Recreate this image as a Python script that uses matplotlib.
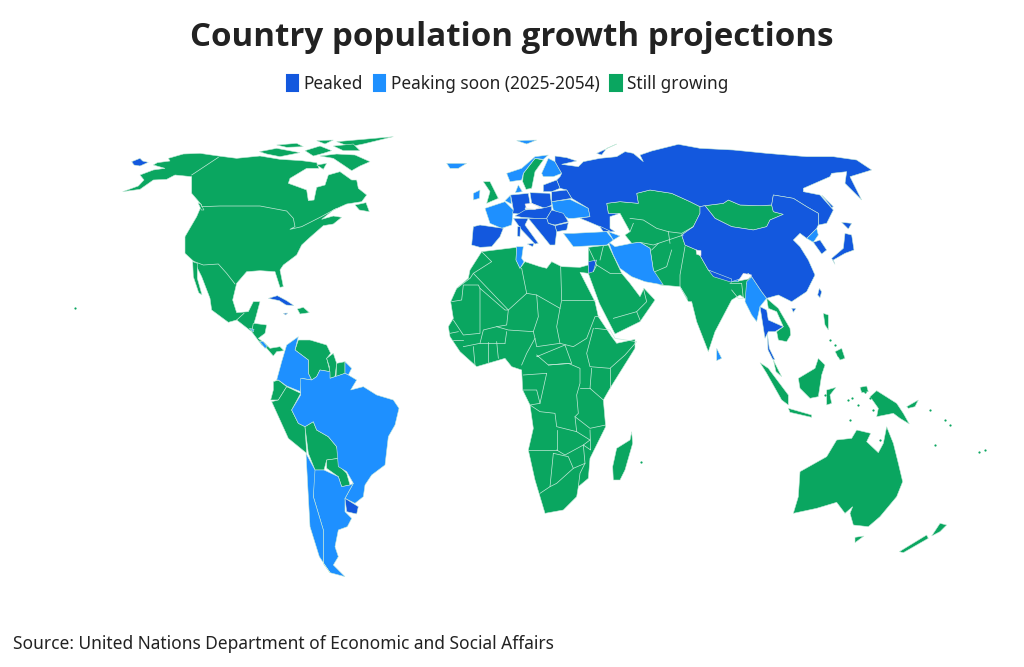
import matplotlib
matplotlib.use("Agg")
import matplotlib.pyplot as plt
from matplotlib.patches import Patch, Polygon
import numpy as np

TITLE = "Country population growth projections"
SOURCE = "Source: United Nations Department of Economic and Social Affairs"
LABELS = ["Peaked", "Peaking soon (2025-2054)", "Still growing"]
COLORS = {"peaked": "#1358DE", "soon": "#1E90FF", "growing": "#0AA660"}

AM = (120, 130); SA = (230, 330); EU = (440, 130); AF = (440, 240); AS = (600, 135); OC = (740, 300)

north_america = [(60,135),(100,120),(135,115),(100,105),(112,98),(150,93),(145,85),(190,72),(240,70),(295,78),(350,85),(420,78),(480,88),(545,92),(590,98),(597,115),(560,115),(510,145),(505,160),(560,180),(565,212),(582,210),(590,172),(615,165),(625,135),(660,125),(695,150),(710,150),(715,175),(740,195),(725,215),(680,222),(640,240),(605,268),(640,258),(665,262),(640,282),(610,287),(570,322),(545,345),(530,375),(490,405),(480,420),(490,470),(480,472),(465,425),(420,422),(380,425),(350,460),(338,510),(350,548),(385,545),(400,515),(420,515),(408,560),(402,580),(440,585),(435,610),(415,625),(435,640),(450,655),(480,650),(492,662),(470,665),(460,678),(440,655),(425,645),(395,605),(350,570),(325,577),(275,540),(270,505),(245,440),(235,420),(222,395),(195,370),(195,320),(230,260),(245,225),(215,190),(215,140),(165,135),(140,148),(100,150),(60,178),(8,185),(55,168),(72,150)]
baja = [(218,395),(232,400),(232,445),(246,495),(236,488),(220,440)]
ellesmere = [(650,35),(820,20),(730,42),(690,50)]
baffin = [(600,78),(650,72),(705,75),(750,95),(720,108),(695,122),(670,105),(640,85)]
victoria = [(418,65),(470,55),(540,68),(480,80),(440,72)]
banks = [(470,45),(530,40),(550,50),(500,52)]
arctic_mid = [(555,62),(600,48),(635,62),(610,70),(580,78)]
arctic_north = [(590,32),(640,30),(615,42)]
arctic_east = [(640,48),(700,42),(720,62),(670,62)]
southampton = [(590,105),(620,100),(610,118)]
newfoundland = [(705,225),(738,218),(748,245),(718,240)]
vancouver = [(234,218),(242,222),(252,240),(244,240)]
hispaniola_east = [(532,537),(550,532),(568,548),(540,552)]
chukotka = [(35,95),(60,85),(68,93),(85,97),(60,108),(42,105)]
cuba = [(445,505),(472,497),(500,512),(522,527),(498,525),(478,512)]
haiti = [(490,550),(503,549),(497,555)]
costa_rica = [(418,633),(430,635),(442,650),(435,655)]
salvador = [(388,595),(402,598),(400,606)]

colombia = [(155,95),(170,45),(205,20),(195,60),(235,90),(235,130),(245,150),(215,145),(212,185),(170,168),(145,150),(140,150)]
venezuela = [(195,60),(205,30),(240,30),(290,45),(302,70),(290,85),(300,125),(270,120),(260,140),(245,150),(235,130),(235,90)]
guyana = [(290,85),(310,70),(320,100),(315,140),(300,145),(298,110)]
suriname = [(320,100),(345,95),(345,130),(318,140)]
guiana = [(345,95),(365,115),(355,135),(345,130)]
brazil = [(212,145),(245,150),(260,140),(270,120),(300,125),(300,145),(345,130),(355,135),(380,150),(362,180),(400,170),(440,195),(490,210),(507,235),(495,285),(475,320),(465,405),(425,435),(405,465),(400,500),(375,520),(345,505),(370,460),(350,425),(325,410),(320,350),(295,320),(260,300),(250,275),(225,290),(205,280),(185,240),(212,195)]
ecuador = [(130,155),(145,150),(170,170),(145,210),(122,210),(130,180)]
peru = [(170,170),(212,190),(185,240),(205,280),(225,290),(230,370),(175,325),(125,215),(145,210)]
bolivia = [(225,290),(250,275),(260,300),(295,320),(320,350),(327,385),(290,390),(282,420),(255,420),(235,370)]
paraguay = [(290,390),(327,385),(330,410),(350,430),(360,465),(335,470),(325,440),(290,415)]
uruguay = [(345,505),(385,530),(380,552),(350,545)]
argentina = [(255,420),(282,420),(325,440),(335,470),(360,465),(370,460),(345,505),(345,545),(365,565),(352,590),(325,600),(315,650),(325,680),(310,705),(345,740),(300,728),(280,700),(280,600),(250,500),(250,430)]
chile = [(228,370),(255,420),(250,500),(280,600),(280,700),(300,728),(268,680),(240,590),(235,500)]

africa = [(125,35),(230,22),(228,60),(240,85),(255,65),(300,80),(320,85),(335,65),(365,80),(420,82),(445,75),(445,100),(420,97),(465,185),(475,230),(515,290),(530,310),(585,298),(585,325),(560,365),(510,445),(490,480),(497,560),(450,655),(445,715),(415,740),(410,770),(370,810),(315,820),(300,770),(285,720),(265,630),(280,565),(270,495),(248,450),(245,390),(215,380),(195,355),(110,380),(60,335),(30,290),(25,260),(40,235),(32,185),(50,145),(85,115),(90,90)]
tunisia = [(230,20),(250,20),(245,55),(252,65),(240,85),(228,60)]
madagascar = [(575,575),(578,610),(555,690),(540,720),(520,720),(518,680),(530,625),(570,600)]
arabia = [(445,22),(505,15),(545,100),(570,130),(600,170),(612,145),(645,180),(600,245),(525,282),(478,190),(445,100),(445,75)]
jordan = [(445,65),(470,60),(460,95),(445,100)]
africa_borders = [
 [(125,35),(155,65),(100,100),(90,115),(50,145)], [(100,100),(205,210),(260,160),(245,85)],
 [(362,80),(365,180),(360,205),(290,165),(260,160)], [(365,180),(465,180)],
 [(35,185),(65,180),(70,135),(115,135),(120,145),(195,210),(205,210),(200,255),(170,260),(130,270),(120,310)],
 [(120,145),(120,280),(70,285),(40,240)], [(290,165),(295,230),(280,275),(205,270),(170,260)],
 [(360,205),(350,260),(360,310),(290,320),(285,295)], [(195,310),(200,275)],[(280,275),(285,295),(260,340),(245,375)],
 [(360,310),(400,320),(440,295),(465,230),(480,230)], [(465,265),(510,270),(525,295),(590,305),(555,345),(510,385),(450,380),(440,340),(460,265)],
 [(455,385),(450,445),(490,480)], [(510,385),(510,445)], [(290,350),(375,315),(395,370),(325,375),(290,345)],
 [(325,375),(385,370),(420,385),(420,430),(410,465),(415,520),(405,530),(410,575),(350,560),(345,520),(300,515),(270,495),(300,490),(320,400)],
 [(420,445),(450,445)], [(497,555),(450,565),(405,530)], [(350,570),(350,630),(265,630)], [(410,575),(450,600),(430,615),(375,645),(350,630)],
 [(340,640),(330,740),(300,760)], [(340,640),(385,650),(400,685),(350,730),(330,740)], [(430,615),(435,670),(400,685)],
 [(450,570),(452,630),(430,615)], [(435,670),(420,700),(415,740)], [(250,405),(320,400)], [(248,450),(290,450),(300,490)],
 [(70,320),(120,310),(195,310)], [(100,320),(105,375)], [(145,305),(145,365)], [(170,305),(175,355)], [(30,280),(55,275)], [(40,300),(70,300)],
 [(520,235),(590,215),(600,240)], [(590,215),(620,185),(610,145)], [(470,75),(510,100),(545,100)], [(445,22),(470,75),(460,95)], [(490,18),(480,60)]]

russia = [(-135,63),(-100,68),(-70,78),(-115,88),(-65,95),(-50,80),(0,70),(50,65),(75,50),(100,55),(130,80),(120,60),(155,48),(235,28),(300,40),(400,45),(500,55),(620,65),(700,65),(770,75),(815,105),(750,125),(785,195),(735,145),(740,110),(695,115),(690,125),(610,160),(610,170),(660,180),(700,225),(680,265),(655,270),(655,235),(620,215),(580,190),(520,180),(515,210),(480,212),(420,210),(385,195),(370,205),(315,212),(300,215),(270,200),(215,175),(150,165),(110,175),(115,205),(60,200),(20,205),(25,235),(60,235),(30,245),(30,280),(45,290),(30,290),(0,275),(-35,260),(-60,250),(-30,245),(-35,220),(-85,190),(-100,165),(-120,160),(-130,135),(-120,125),(-115,115),(-135,80)]
novaya = [(-10,55),(50,27),(20,40),(5,60)]
china = [(300,235),(280,275),(245,300),(255,330),(290,345),(305,370),(325,405),(395,440),(425,430),(445,415),(455,425),(485,470),(500,490),(535,480),(575,500),(620,470),(645,420),(625,375),(600,335),(580,315),(600,295),(620,310),(650,280),(655,270),(655,235),(620,215),(580,190),(520,180),(515,210),(520,230),(550,238),(510,255),(500,275),(460,285),(395,275),(345,250),(315,212),(300,215)]
mongolia = [(315,212),(370,205),(385,195),(420,210),(480,212),(515,210),(520,230),(550,238),(510,255),(500,275),(460,285),(395,275),(345,250)]
central_south_asia = [(20,205),(60,200),(115,205),(110,175),(150,165),(215,175),(270,200),(300,215),(300,235),(280,275),(245,300),(255,330),(290,345),(305,370),(325,405),(395,440),(445,425),(455,430),(440,445),(445,470),(440,495),(420,480),(395,495),(345,590),(325,650),(290,560),(275,500),(265,500),(240,455),(180,450),(160,405),(150,340),(120,322),(95,325),(75,300),(90,290),(60,235),(25,235)]
asia_borders = [[(90,250),(130,255),(170,280),(205,290),(245,295),(280,275)], [(90,290),(100,265)], [(155,345),(175,325),(205,315),(250,300)], [(215,345),(200,395),(165,410)], [(255,335),(240,420),(240,455),(262,490)], [(390,445),(425,445),(430,490),(415,490),(395,465)], [(120,322),(160,330),(175,325)], [(205,290),(210,325)]]
iran = [(25,320),(45,335),(95,325),(120,322),(150,340),(160,405),(190,450),(135,440),(95,425),(60,400),(40,360)]
nepal = [(325,405),(395,432),(395,442),(340,425)]
bhutan = [(390,425),(415,428),(415,440),(395,440)]
arunachal = [(415,438),(430,415),(455,420),(445,432)]
kashmir = [(288,345),(303,347),(303,362),(290,358)]
myanmar = [(440,440),(455,425),(485,470),(500,490),(480,515),(470,560),(455,540),(435,500)]
thailand = [(480,515),(500,525),(505,555),(550,575),(525,590),(505,590),(495,610)]
indochina = [(500,490),(535,520),(570,580),(572,600),(560,620),(535,615),(530,590),(550,575),(530,530),(505,520)]
n_korea = [(620,310),(650,280),(655,300),(640,322)]
s_korea = [(640,322),(660,315),(680,345),(665,357)]
honshu = [(735,295),(755,300),(762,345),(735,355),(700,375),(705,388),(695,370),(730,340)]
hokkaido = [(725,262),(755,265),(745,282)]
sakhalin = [(665,180),(700,215),(695,218)]
taiwan = [(658,460),(665,470),(660,488),(653,480)]
hainan = [(575,520),(588,520),(580,532)]
sri_lanka = [(350,640),(365,670),(350,677)]

sweden = [(250,130),(285,85),(310,90),(285,125),(275,175),(258,178),(248,155)]
norway = [(200,130),(245,115),(285,80),(325,75),(310,88),(285,85),(250,130),(245,150),(210,155)]
finland = [(305,130),(325,85),(345,95),(365,130),(340,140),(310,140)]
iceland = [(20,100),(80,100),(55,115),(30,115)]
svalbard = [(230,32),(290,30),(260,42)]
britain = [(130,155),(150,155),(175,205),(140,220),(150,185)]
ireland = [(100,190),(120,180),(118,205),(100,210)]
france = [(135,235),(195,215),(220,240),(215,285),(185,295),(150,280)]
iberia = [(100,290),(120,285),(190,295),(180,320),(155,350),(120,352),(95,345)]
benelux = [(195,212),(212,195),(214,222)]
denmark = [(235,165),(247,185),(226,188)]
germany = [(212,195),(265,190),(270,220),(255,235),(265,255),(218,250),(220,238)]
poland = [(270,188),(330,190),(335,225),(315,235),(275,220)]
austria_hungary = [(225,258),(255,240),(300,236),(335,228),(335,240),(320,265),(285,265),(245,262)]
italy = [(220,265),(265,265),(255,285),(295,340),(285,342),(245,300)]
sardinia = [(233,290),(241,290),(240,320),(232,318)]
sicily = [(262,342),(282,340),(278,350)]
romania = [(320,265),(335,240),(370,250),(385,275),(345,285),(325,280)]
bulgaria = [(345,287),(385,278),(380,300),(350,305)]
balkans = [(265,265),(320,265),(325,280),(345,287),(350,305),(345,345),(330,345),(310,320)]
ukraine = [(335,215),(390,208),(445,235),(450,260),(400,265),(385,265),(340,240)]
belarus = [(335,185),(380,180),(395,205),(335,215)]
baltics = [(310,165),(350,150),(360,175),(335,185),(310,185)]
turkey = [(370,310),(400,310),(500,305),(520,330),(500,345),(400,350)]
caucasus = [(505,305),(540,318),(520,330)]
georgia = [(478,288),(510,303),(490,305)]

sumatra = [(60,188),(85,205),(145,285),(145,315),(125,300),(80,220)]
malaya = [(100,180),(125,230),(108,215)]
thai_south = [(82,100),(88,145),(105,180),(98,178),(84,150)]
borneo = [(235,175),(255,195),(245,225),(235,290),(210,295),(180,265),(175,235),(225,205)]
java = [(145,325),(215,345),(215,352),(150,337)]
sulawesi = [(260,270),(288,262),(270,285),(275,310),(260,315)]
new_guinea = [(390,290),(410,272),(470,310),(490,340),(508,372),(480,355),(460,340),(410,350),(415,325),(395,297)]
new_guinea_east = [(500,320),(535,300),(525,320),(505,325)]
luzon = [(250,40),(265,45),(265,90),(255,75)]
mindanao = [(285,155),(305,145),(315,175),(300,180)]
halmahera = [(360,262),(380,258),(385,275),(365,278)]
australia = [(440,380),(460,430),(475,490),(488,545),(470,590),(420,650),(385,680),(340,675),(330,640),(338,620),(315,640),(290,607),(230,625),(160,640),(175,590),(180,515),(260,470),(290,420),(335,415),(350,390),(392,400),(380,425),(415,458),(430,430)]
tasmania = [(345,712),(372,708),(345,728)]
nz_south = [(478,755),(560,705),(565,715),(490,758)]
nz_north = [(575,708),(600,670),(620,675),(600,695)]

PEAKED = [(AM, chukotka), (AM, cuba), (AM, haiti), (SA, uruguay), (AF, jordan), (AS, russia), (AS, novaya), (AS, china), (AS, nepal), (AS, thailand), (AS, s_korea), (AS, honshu), (AS, hokkaido), (AS, sakhalin), (AS, taiwan), (AS, hainan), (OC, thai_south),
          (EU, iberia), (EU, germany), (EU, poland), (EU, austria_hungary), (EU, italy), (EU, sardinia), (EU, sicily), (EU, romania), (EU, bulgaria), (EU, balkans), (EU, belarus), (EU, baltics), (EU, georgia)]
SOON = [(AM, costa_rica), (AM, salvador), (SA, colombia), (SA, guiana), (SA, brazil), (SA, argentina), (SA, chile), (AF, tunisia), (AS, iran), (AS, bhutan), (AS, myanmar), (AS, n_korea), (AS, sri_lanka),
        (EU, norway), (EU, finland), (EU, iceland), (EU, svalbard), (EU, ireland), (EU, france), (EU, benelux), (EU, denmark), (EU, ukraine), (EU, turkey), (EU, caucasus)]
GROWING = [(AM, north_america), (AM, baja), (AM, ellesmere), (AM, baffin), (AM, victoria), (AM, banks), (AM, arctic_mid), (AM, arctic_north), (AM, arctic_east), (AM, southampton), (AM, newfoundland), (AM, vancouver), (AM, hispaniola_east),
           (SA, venezuela), (SA, guyana), (SA, suriname), (SA, ecuador), (SA, peru), (SA, bolivia), (SA, paraguay),
           (AF, africa), (AF, madagascar), (AF, arabia), (AS, mongolia), (AS, central_south_asia), (AS, indochina), (EU, sweden), (EU, britain),
           (OC, sumatra), (OC, malaya), (OC, borneo), (OC, java), (OC, sulawesi), (OC, new_guinea), (OC, new_guinea_east), (OC, luzon), (OC, mindanao), (OC, halmahera), (OC, australia), (OC, tasmania), (OC, nz_south), (OC, nz_north)]
ABSENT = [(AS, kashmir), (AS, arunachal), (EU, [(255,222),(275,220),(300,232),(285,238),(260,236)])]
NA_BORDERS = [[(245,230),(300,228),(420,228),(500,243),(520,265),(525,290),(510,298),(545,290),(600,262),(650,235)], [(215,135),(295,82)], [(218,393),(250,405),(295,402),(320,430),(345,462)], [(350,570),(372,550)], [(400,580),(395,605)]]
TINY_ISLANDS = [(75,308),(985,450),(979,452),(641,462),(598,290),(865,392),(873,410),(850,420),(880,440),(930,410),(945,420),(935,445),(950,425),(830,340),(835,345),(838,355),(825,395),(848,400),(852,398),(858,405),(870,398)]

def place(origin, pts):
    return np.array(origin) + np.array(pts, float) / 3

fig = plt.figure(figsize=(10.24, 6.67), dpi=100, facecolor="white")
ax = fig.add_axes([0, 0, 1, 1])
ax.set_xlim(0, 1024); ax.set_ylim(667, 0); ax.axis("off")

BORDER = "#c6eada"
for group, key in [(GROWING, "growing"), (SOON, "soon"), (PEAKED, "peaked")]:
    for origin, pts in group:
        ax.add_patch(Polygon(place(origin, pts), closed=True, facecolor=COLORS[key], edgecolor=BORDER, linewidth=0.4, zorder=2))
for origin, pts in ABSENT:
    ax.add_patch(Polygon(place(origin, pts), closed=True, facecolor="white", edgecolor="#dddddd", linewidth=0.4, zorder=3))
for origin, lines in [(AF, africa_borders), (AS, asia_borders), (AM, NA_BORDERS)]:
    for line in lines:
        xy = place(origin, line)
        ax.plot(xy[:, 0], xy[:, 1], color=BORDER, lw=0.5, zorder=3)
isl = np.array(TINY_ISLANDS)
ax.scatter(isl[:, 0], isl[:, 1], s=2.5, color=COLORS["growing"], linewidths=0, zorder=3)

fig.text(0.5, 1 - 37 / 667, TITLE, ha="center", va="center", fontsize=23.9, fontweight="bold", family="Open Sans", color="#222222")
handles = [Patch(facecolor=COLORS[k], edgecolor=COLORS[k], linewidth=1.5, joinstyle="round") for k in ("peaked", "soon", "growing")]
fig.legend(handles, LABELS, loc="center", bbox_to_anchor=(507.5 / 1024, 1 - 84 / 667), ncol=3, frameon=False, handlelength=0.68, handleheight=1.05, handletextpad=0.3, columnspacing=0.62, prop={"family": "Noto Sans", "size": 12.4}, labelcolor="#222222")
fig.text(13 / 1024, 1 - 644 / 667, SOURCE, ha="left", va="center", fontsize=12.5, family="Noto Sans", color="#222222")
fig.savefig("out.png", dpi=100)
